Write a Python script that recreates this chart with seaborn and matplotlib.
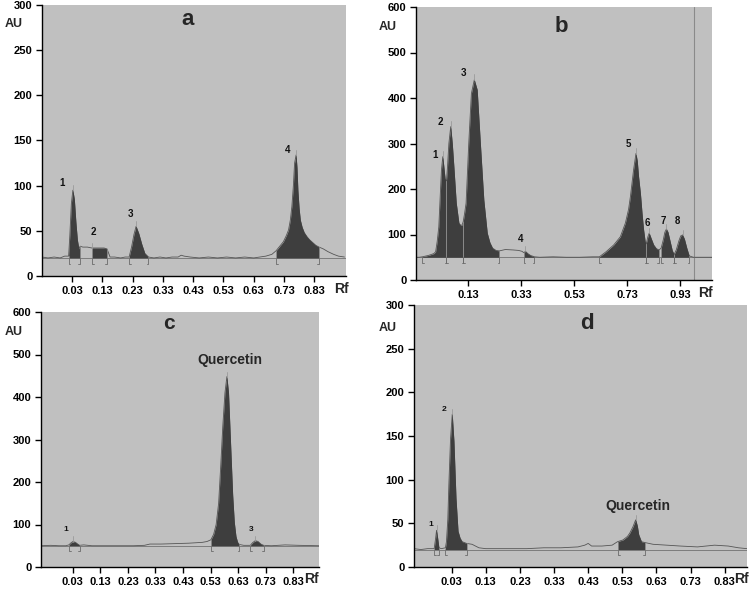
import numpy as np
import matplotlib
matplotlib.use("Agg")
import matplotlib.pyplot as plt
import seaborn as sns

# ---------------- data ----------------
# Panel a
a_rf = [-0.07, -0.05, -0.03, -0.01, 0.005, 0.018, 0.022, 0.027, 0.032, 0.037,
        0.042, 0.047, 0.052, 0.056, 0.065, 0.08, 0.095, 0.105, 0.12, 0.135,
        0.145, 0.155, 0.17, 0.19, 0.205, 0.218, 0.226, 0.234, 0.241, 0.25,
        0.26, 0.27, 0.282, 0.30, 0.32, 0.34, 0.36, 0.38, 0.39, 0.40,
        0.42, 0.45, 0.48, 0.51, 0.54, 0.57, 0.60, 0.63, 0.65, 0.67,
        0.69, 0.704, 0.716, 0.728, 0.738, 0.745, 0.751, 0.756, 0.761, 0.765,
        0.770, 0.773, 0.776, 0.780, 0.784, 0.790, 0.797, 0.806, 0.815, 0.825,
        0.835, 0.846, 0.86, 0.875, 0.894, 0.91, 0.93]
a_au = [21, 20, 21, 20, 22, 22, 45, 80, 95, 85,
        60, 40, 30, 33, 32, 32, 31, 31, 31, 31,
        30, 21, 21, 20, 21, 21, 32, 46, 55, 47,
        35, 25, 21, 20, 21, 20, 21, 21, 23, 22,
        21, 20, 21, 20, 21, 20, 21, 20, 21, 22,
        24, 28, 33, 38, 45, 51, 62, 77, 100, 125,
        134, 120, 95, 75, 62, 54, 48, 43.5, 40, 37,
        34, 32, 30, 27, 24, 22, 21]
a_ranges = [(0.018, 0.056), (0.095, 0.145), (0.218, 0.282), (0.704, 0.846)]
a_labels = ["1", "2", "3", "4"]
a_label_x = [-0.004, 0.10, 0.224, 0.742]
a_label_y = [103, 49, 69, 140]

# Panel b
b_rf = [-0.07, -0.055, -0.043, -0.02, 0.0, 0.007, 0.013, 0.019, 0.024, 0.029,
        0.034, 0.038, 0.043, 0.048, 0.052, 0.057, 0.064, 0.070, 0.076, 0.085,
        0.095, 0.102, 0.107, 0.111, 0.116, 0.122, 0.132, 0.142, 0.153, 0.164,
        0.176, 0.189, 0.202, 0.212, 0.222, 0.235, 0.248, 0.27, 0.30, 0.32,
        0.333, 0.34, 0.346, 0.355, 0.365, 0.38, 0.40, 0.45, 0.50, 0.55,
        0.60, 0.625, 0.65, 0.679, 0.704, 0.723, 0.735, 0.742, 0.754, 0.763,
        0.768, 0.773, 0.780, 0.786, 0.792, 0.798, 0.802, 0.808, 0.813, 0.820,
        0.83, 0.84, 0.85, 0.858, 0.866, 0.872, 0.878, 0.884, 0.892, 0.900,
        0.907, 0.915, 0.925, 0.932, 0.939, 0.946, 0.955, 0.964, 0.98, 1.05]
b_au = [50, 50, 51, 54, 58, 62, 85, 117, 180, 242,
        271, 250, 222, 218, 250, 300, 337, 300, 249, 169,
        125, 120, 121, 128, 145, 169, 300, 410, 440, 418,
        300, 176, 103, 82, 70, 65, 64, 67, 66, 65,
        63, 60, 63, 58, 54, 51, 50, 51, 50, 50,
        51, 51, 62, 77, 95, 125, 155, 183, 242, 278,
        262, 227, 190, 147, 110, 84, 80, 95, 103, 92,
        77, 69, 66, 70, 88, 105, 112, 105, 85, 65,
        56, 66, 86, 97, 99, 90, 70, 53, 50, 50]
b_ranges = [(-0.043, 0.048), (0.048, 0.111), (0.111, 0.248), (0.34, 0.38),
            (0.625, 0.802), (0.802, 0.85), (0.858, 0.907), (0.907, 0.964)]
b_labels = ["1", "2", "3", "4", "5", "6", "7", "8"]
b_label_x = [0.004, 0.026, 0.113, 0.327, 0.733, 0.808, 0.867, 0.921]
b_label_y = [275, 348, 454, 90, 298, 126, 130, 130]

# Panel c
c_rf = [-0.085, -0.05, -0.02, 0.005, 0.016, 0.024, 0.031, 0.040, 0.048, 0.055,
        0.07, 0.10, 0.15, 0.20, 0.25, 0.29, 0.31, 0.35, 0.40, 0.45,
        0.50, 0.517, 0.531, 0.541, 0.550, 0.559, 0.566, 0.574, 0.582, 0.589,
        0.595, 0.600, 0.605, 0.610, 0.616, 0.622, 0.628, 0.634, 0.65, 0.674,
        0.682, 0.692, 0.702, 0.712, 0.722, 0.75, 0.80, 0.85, 0.923]
c_au = [50, 51, 50, 50, 52, 57, 60, 58, 54, 51,
        52, 50, 50, 50, 50, 51, 54, 54, 55, 56,
        58, 60, 64, 77, 100, 150, 230, 330, 410, 448,
        410, 330, 250, 170, 105, 72, 58, 53, 51, 51,
        57, 62, 60, 54, 51, 50, 52, 51, 50]
c_ranges = [(0.016, 0.055), (0.531, 0.634), (0.674, 0.722)]
c_labels = ["1", "3"]
c_label_x = [0.006, 0.676]
c_label_y = [89, 89]

# Panel d
d_rf = [-0.08, -0.06, -0.04, -0.021, -0.017, -0.014, -0.011, -0.007, 0.0, 0.012,
        0.015, 0.019, 0.022, 0.027, 0.032, 0.037, 0.043, 0.049, 0.055, 0.061,
        0.074, 0.09, 0.11, 0.13, 0.16, 0.20, 0.25, 0.30, 0.35, 0.40,
        0.42, 0.43, 0.44, 0.47, 0.50, 0.516, 0.532, 0.545, 0.552, 0.561,
        0.569, 0.574, 0.578, 0.586, 0.596, 0.62, 0.66, 0.70, 0.75, 0.80,
        0.84, 0.87, 0.895]
d_au = [21, 20, 21, 21, 32, 42, 34, 22, 21, 22,
        29, 55, 94, 147, 175, 144, 79, 41, 33, 29,
        27, 26, 22, 21, 21, 21, 21, 22, 22, 23,
        25, 27, 24, 24, 25, 29, 31, 35, 39, 46,
        54, 47, 37, 29, 28, 26, 25, 24, 23, 25,
        24, 22, 21]
d_ranges = [(-0.021, -0.007), (0.012, 0.074), (0.516, 0.596)]
d_labels = ["1", "2"]
d_label_x = [-0.031, 0.008]
d_label_y = [49, 180]

tick_rf_full = [0.03, 0.13, 0.23, 0.33, 0.43, 0.53, 0.63, 0.73, 0.83]
tick_rf_b = [0.13, 0.33, 0.53, 0.73, 0.93]
ticks_300 = [0, 50, 100, 150, 200, 250, 300]
ticks_600 = [0, 100, 200, 300, 400, 500, 600]

# ---------------- styling ----------------
sns.set_theme(style="ticks")
plt.rcParams['font.family'] = ['Liberation Sans', 'DejaVu Sans']

BG = '#c0c0c0'
FILL = '#3e3e3e'
TRACE = '#555555'
BASE = '#7c7c7c'
W, H = 749, 600

fig = plt.figure(figsize=(7.49, 6.0), dpi=100)


def px_axes(l, t, r, b):
    return fig.add_axes([l / W, 1 - b / H, (r - l) / W, (b - t) / H])


def draw(ax, rf, au, base, ranges, xlim, ymax, xticks, yticks,
         labels, lx, ly, lsize):
    rf = np.asarray(rf, float)
    au = np.asarray(au, float)
    ax.set_facecolor(BG)
    ax.set_xlim(*xlim)
    ax.set_ylim(0, ymax)
    ax.axhline(base, color=BASE, lw=0.7, zorder=1)
    sns.lineplot(x=rf, y=au, ax=ax, color=TRACE, lw=0.6, sort=False,
                 estimator=None, zorder=2)
    d = ymax * 0.022
    wb = 0.006
    for lo, hi in ranges:
        m = (rf >= lo - 1e-9) & (rf <= hi + 1e-9)
        ax.fill_between(rf[m], base, au[m], color=FILL, lw=0, zorder=3)
        ylo = au[m][0]
        yhi = au[m][-1]
        ax.plot([lo, lo], [base, ylo], color='#8a8a8a', lw=0.6, zorder=4)
        ax.plot([hi, hi], [base, yhi], color='#8a8a8a', lw=0.6, zorder=4)
        ax.plot([lo + wb, lo, lo], [base - d, base - d, base], color='#6a6a6a',
                lw=0.6, zorder=4)
        ax.plot([hi - wb, hi, hi], [base - d, base - d, base], color='#6a6a6a',
                lw=0.6, zorder=4)
        k = np.argmax(au[m])
        xp, yp = rf[m][k], au[m][k]
        ax.plot([xp, xp], [yp, yp + d * 0.9], color='#9a9a9a', lw=0.6, zorder=4)
    for s, x, y in zip(labels, lx, ly):
        ax.text(x, y, s, fontsize=lsize, fontweight='bold', ha='center',
                va='center', color='#111111', zorder=5)
    ax.set_xticks(xticks, labels=[f"{t:.2f}" for t in xticks],
                  fontweight='bold', fontsize=8)
    ax.set_yticks(yticks, labels=[str(t) for t in yticks],
                  fontweight='bold', fontsize=8)
    ax.tick_params(direction='out', length=4, width=1, colors='black',
                   pad=3)
    ax.set_xlabel('')
    ax.set_ylabel('')
    sns.despine(ax=ax)
    for sp in ('left', 'bottom'):
        ax.spines[sp].set_color('black')
        ax.spines[sp].set_linewidth(1.0)


ax_a = px_axes(42, 5, 346, 276)
draw(ax_a, a_rf, a_au, 20, a_ranges, (-0.07, 0.935), 300, tick_rf_full,
     ticks_300, a_labels, a_label_x, a_label_y, 7)
ax_a.text(0.479, 0.945, 'a', transform=ax_a.transAxes, fontsize=16,
          fontweight='bold', ha='center', va='center')

ax_b = px_axes(416, 7, 712, 280)
draw(ax_b, b_rf, b_au, 50, b_ranges, (-0.067, 1.05), 600, tick_rf_b,
     ticks_600, b_labels, b_label_x, b_label_y, 7)
ax_b.axvline(0.983, color='#8a8a8a', lw=0.8, zorder=1)
ax_b.text(0.49, 0.928, 'b', transform=ax_b.transAxes, fontsize=16,
          fontweight='bold', ha='center', va='center')

ax_c = px_axes(41, 312, 319, 567)
draw(ax_c, c_rf, c_au, 50, c_ranges, (-0.085, 0.923), 600, tick_rf_full,
     ticks_600, c_labels, c_label_x, c_label_y, 6)
ax_c.text(0.461, 0.955, 'c', transform=ax_c.transAxes, fontsize=15,
          fontweight='bold', ha='center', va='center')
ax_c.text(0.68, 0.813, 'Quercetin', transform=ax_c.transAxes, fontsize=10,
          fontweight='bold', ha='center', va='center')

ax_d = px_axes(414, 305, 747, 567)
draw(ax_d, d_rf, d_au, 20, d_ranges, (-0.08, 0.895), 300, tick_rf_full,
     ticks_300, d_labels, d_label_x, d_label_y, 6)
ax_d.text(0.518, 0.93, 'd', transform=ax_d.transAxes, fontsize=16,
          fontweight='bold', ha='center', va='center')
ax_d.text(0.673, 0.231, 'Quercetin', transform=ax_d.transAxes, fontsize=10,
          fontweight='bold', ha='center', va='center')

# axis unit labels
for (x, y) in [(14, 24), (388, 27), (14, 332), (388, 328)]:
    fig.text(x / W, 1 - y / H, 'AU', fontsize=9, fontweight='bold',
             ha='center', va='center')
for (x, y) in [(341, 289), (705, 293), (311, 579), (741, 579)]:
    fig.text(x / W, 1 - y / H, 'Rf', fontsize=10, fontweight='bold',
             ha='center', va='center')

fig.savefig('out.png', dpi=100, facecolor='white')
